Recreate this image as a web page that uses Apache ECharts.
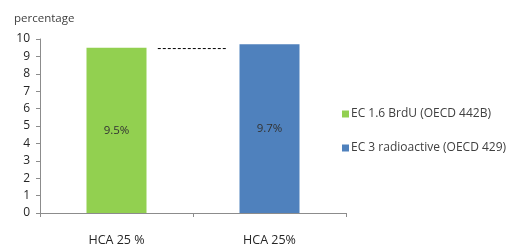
<!DOCTYPE html>
<html><head><meta charset="utf-8">
<script src="https://cdn.jsdelivr.net/npm/echarts@6/dist/echarts.min.js"></script>
<style>html,body{margin:0;padding:0;background:#fff}#c{width:516px;height:248px}</style>
</head><body><div id="c"></div>
<script>
var categories = ['HCA 25 %', 'HCA 25%'];
var seriesNames = ['EC 1.6 BrdU (OECD 442B)', 'EC 3 radioactive (OECD 429)'];
var brduValues = [9.5, null];
var radioValues = [null, 9.7];
var barLabels = ['9.5%', '9.7%'];
var connectorX = [0.77, 1.22];
var connectorY = [9.45, 9.45];
var yTicks = [0, 10, 1];

var font = 'Open Sans, Liberation Sans, sans-serif';
var chart = echarts.init(document.getElementById('c'));
chart.setOption({
  animation: false,
  textStyle: {fontFamily: font},
  grid: {left: 40, right: 170, top: 39, bottom: 35, containLabel: false},
  legend: {
    orient: 'vertical', left: 337, top: 103, itemGap: 22,
    itemWidth: 7, itemHeight: 7, icon: 'rect',
    textStyle: {fontSize: 12, color: '#404040', fontFamily: font, padding: [0,0,0,-3]},
    data: seriesNames
  },
  xAxis: [{
    type: 'category', data: categories,
    axisLine: {lineStyle: {color: '#8c8c8c'}},
    axisTick: {show: true, alignWithLabel: false, length: 4, lineStyle: {color: '#8c8c8c'}},
    axisLabel: {color: '#262626', fontSize: 12.5, margin: 21}
  }, {
    type: 'value', min: 0, max: 2, show: false
  }],
  yAxis: {
    type: 'value', min: yTicks[0], max: yTicks[1], interval: yTicks[2],
    name: 'percentage', nameLocation: 'end', nameGap: 14,
    nameTextStyle: {color: '#404040', fontSize: 11.5, align: 'left', padding: [0,0,0,-26]},
    axisLine: {show: true, lineStyle: {color: '#8c8c8c'}},
    axisTick: {show: true, length: 4, lineStyle: {color: '#8c8c8c'}},
    splitLine: {show: false},
    axisLabel: {color: '#262626', fontSize: 12, margin: 10}
  },
  series: [{
    name: seriesNames[0], type: 'bar', data: brduValues, barWidth: 60, barGap: '-100%',
    itemStyle: {color: '#92D050'},
    label: {show: true, position: 'inside', color: '#333', fontSize: 11.5,
      formatter: function(p){return barLabels[p.dataIndex];}}
  }, {
    name: seriesNames[1], type: 'bar', data: radioValues, barWidth: 60, barGap: '-100%',
    itemStyle: {color: '#4F81BD'},
    label: {show: true, position: 'inside', color: '#333', fontSize: 11.5,
      formatter: function(p){return barLabels[p.dataIndex];}}
  }, {
    type: 'line', xAxisIndex: 1, symbol: 'none', silent: true,
    data: connectorX.map(function(x,i){return [x, connectorY[i]];}),
    lineStyle: {color: '#000', width: 1, type: [3,2]}
  }]
});
</script></body></html>
